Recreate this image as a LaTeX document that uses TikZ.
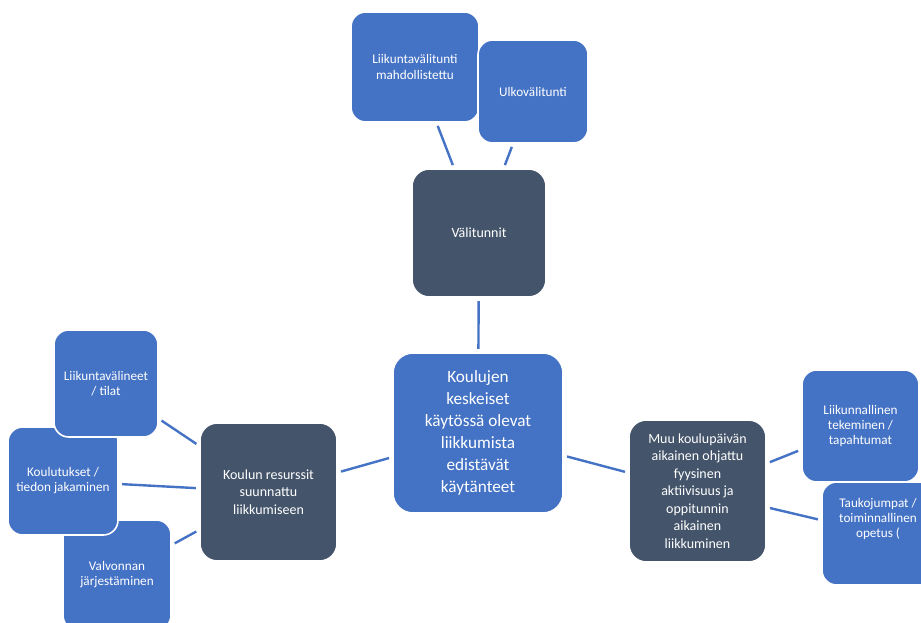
\documentclass[tikz,border=0pt]{standalone}
\usepackage{fontspec}
\setmainfont{Carlito}
\definecolor{boxblue}{HTML}{4472C4}
\definecolor{boxdark}{HTML}{44546A}
\definecolor{linkblue}{HTML}{4472C4}
\begin{document}
\begin{tikzpicture}[x=0.75pt,y=-0.75pt,
  basebox/.style={draw=white,line width=1.2pt,text=white,align=center,inner sep=2pt},
  smallbox/.style={basebox,fill=boxblue,rounded corners=11pt,font=\fontsize{9.9}{11.3}\selectfont},
  darkbox/.style={basebox,fill=boxdark,rounded corners=13pt,font=\fontsize{10.5}{13.1}\selectfont},
  mainbox/.style={basebox,fill=boxblue,rounded corners=15pt,font=\fontsize{12.9}{16.5}\selectfont},
  sz/.style 2 args={minimum width=#1*0.75pt,minimum height=#2*0.75pt},
  link/.style={draw=linkblue,line width=1.8pt,shorten >=2.5pt,shorten <=2.5pt}]
\useasboundingbox (0,0) rectangle (921,623);
\clip (0,0) rectangle (921,623);
% top cluster
\node[smallbox,sz={128}{110}] (lv) at (415,67) {Liikuntavälitunti\\mahdollistettu};
\node[smallbox,sz={110}{103}] (ulko) at (533,91.5) {Ulkovälitunti};
\node[darkbox,sz={134}{128}] (vali) at (479,233) {Välitunnit};
% centre
\node[mainbox,sz={170}{160}] (main) at (478,433) {Koulujen\\keskeiset\\käytössä olevat\\liikkumista\\edistävät\\käytänteet};
% left cluster
\node[darkbox,sz={137}{138}] (res) at (268.5,492) {Koulun resurssit\\suunnattu\\liikkumiseen};
\node[smallbox,sz={108}{110}] (valv) at (117,575) {Valvonnan\\järjestäminen};
\node[smallbox,sz={110}{108}] (kt) at (63,481) {Koulutukset /\\tiedon jakaminen};
\node[smallbox,sz={104}{107}] (lvt) at (106,383.5) {Liikuntavälineet\\/ tilat};
% right cluster
\node[darkbox,sz={137}{142}] (muu) at (697.5,491) {Muu koulupäivän\\aikainen ohjattu\\fyysinen\\aktiivisuus ja\\oppitunnin\\aikainen\\liikkuminen};
\node[smallbox,sz={112}{103}] (tauko) at (878,533.5) {Taukojumpat /\\toiminnallinen\\opetus (\\[12pt]};
\node[smallbox,sz={117}{112}] (lt) at (860.5,426) {Liikunnallinen\\tekeminen /\\tapahtumat};
% connectors
\draw[link] (lv) -- (vali);
\draw[link] (ulko) -- (vali);
\draw[link] (vali) -- (main);
\draw[link] (main) -- (res);
\draw[link] (lvt) -- (res);
\draw[link] (kt) -- (res);
\draw[link] (valv) -- (res);
\draw[link] (main) -- (muu);
\draw[link] (muu) -- (lt);
\draw[link] (muu) -- (tauko);
\end{tikzpicture}
\end{document}
